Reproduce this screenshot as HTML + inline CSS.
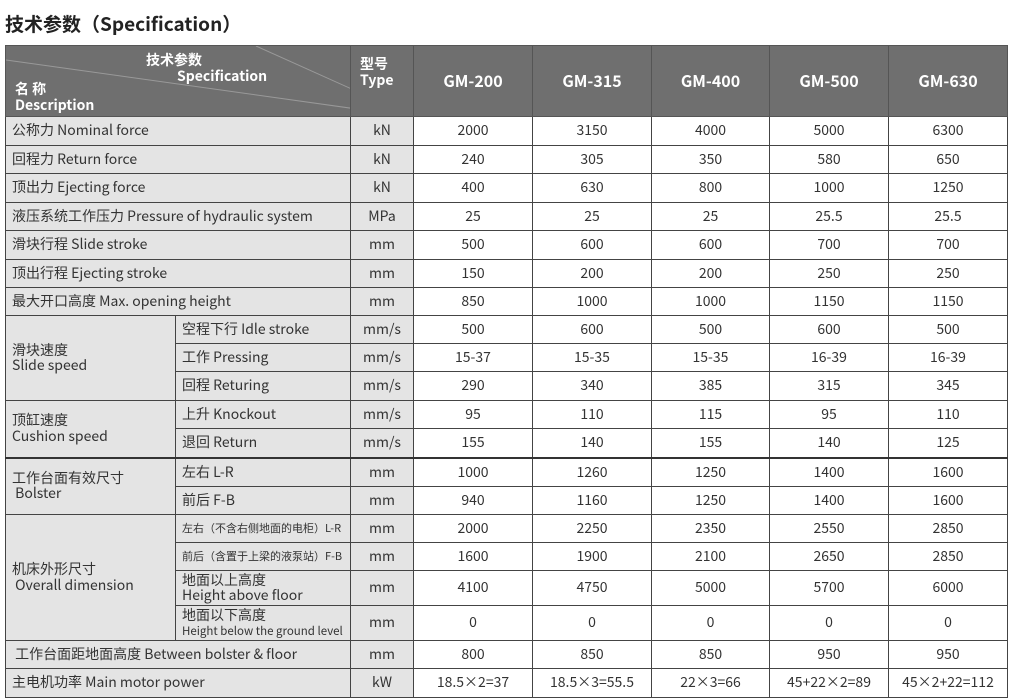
<!DOCTYPE html>
<html><head><meta charset="utf-8"><style>
body{margin:0;background:#fff;width:1011px;height:699px;overflow:hidden;font-family:"Liberation Sans","Noto Sans CJK SC",sans-serif;color:#333;position:relative}
.title{position:absolute;left:5px;top:10px;font-size:19px;font-weight:bold;color:#222;font-family:"Noto Sans CJK SC","Liberation Sans",sans-serif}
table{position:absolute;left:5px;top:45px;border-collapse:collapse;table-layout:fixed;width:1002px}
td{border:1px solid #444;padding:0;font-size:14px;font-family:"Noto Sans CJK SC","Liberation Sans",sans-serif;overflow:hidden;white-space:nowrap;line-height:1.1}
td.n{background:#e4e4e4;padding-left:6px;text-align:left}
td.u{background:#e4e4e4;text-align:center}
td.v{background:#fff;text-align:center}
.hd td{background:#6f6f6f;color:#fff;font-weight:bold;border-color:#555}
.sm{font-size:11px}
</style></head><body>
<div class="title">技术参数（Specification）</div>
<table>
<colgroup><col style="width:170px"><col style="width:175px"><col style="width:63px"><col style="width:119px"><col style="width:119px"><col style="width:118px"><col style="width:119px"><col style="width:119px"></colgroup>
<tr class="hd" style="height:71px"><td colspan="2" style="position:relative">
<svg width="345" height="71" style="position:absolute;left:0;top:0"><line x1="0" y1="14" x2="408" y2="71" stroke="#999" stroke-width="1"/><line x1="250" y1="0" x2="408" y2="71" stroke="#999" stroke-width="1"/></svg>
<div style="position:absolute;left:140px;top:6px;font-size:14px;line-height:16px">技术参数<br><span style="padding-left:31px">Specification</span></div>
<div style="position:absolute;left:9px;top:35px;font-size:14px;line-height:16px">名 称<br>Description</div></td>
<td style="position:relative;border-left:none"><div style="position:absolute;left:9px;top:10px;font-size:14px;line-height:16px">型号<br>Type</div></td>
<td class="c" style="text-align:center;font-size:16px">GM-200</td><td style="text-align:center;font-size:16px">GM-315</td><td style="text-align:center;font-size:16px">GM-400</td><td style="text-align:center;font-size:16px">GM-500</td><td style="text-align:center;font-size:16px">GM-630</td></tr>
<tr style="height:29px"><td class="n" colspan="2">公称力 Nominal force</td><td class="u">kN</td><td class="v">2000</td><td class="v">3150</td><td class="v">4000</td><td class="v">5000</td><td class="v">6300</td></tr>
<tr style="height:28px"><td class="n" colspan="2">回程力 Return force</td><td class="u">kN</td><td class="v">240</td><td class="v">305</td><td class="v">350</td><td class="v">580</td><td class="v">650</td></tr>
<tr style="height:29px"><td class="n" colspan="2">顶出力 Ejecting force</td><td class="u">kN</td><td class="v">400</td><td class="v">630</td><td class="v">800</td><td class="v">1000</td><td class="v">1250</td></tr>
<tr style="height:28px"><td class="n" colspan="2">液压系统工作压力 Pressure of hydraulic system</td><td class="u">MPa</td><td class="v">25</td><td class="v">25</td><td class="v">25</td><td class="v">25.5</td><td class="v">25.5</td></tr>
<tr style="height:29px"><td class="n" colspan="2">滑块行程 Slide stroke</td><td class="u">mm</td><td class="v">500</td><td class="v">600</td><td class="v">600</td><td class="v">700</td><td class="v">700</td></tr>
<tr style="height:28px"><td class="n" colspan="2">顶出行程 Ejecting stroke</td><td class="u">mm</td><td class="v">150</td><td class="v">200</td><td class="v">200</td><td class="v">250</td><td class="v">250</td></tr>
<tr style="height:28px"><td class="n" colspan="2">最大开口高度 Max. opening height</td><td class="u">mm</td><td class="v">850</td><td class="v">1000</td><td class="v">1000</td><td class="v">1150</td><td class="v">1150</td></tr>
<tr style="height:28px"><td class="n" rowspan="3">滑块速度<br>Slide speed</td><td class="n">空程下行 Idle stroke</td><td class="u">mm/s</td><td class="v">500</td><td class="v">600</td><td class="v">500</td><td class="v">600</td><td class="v">500</td></tr>
<tr style="height:28px"><td class="n">工作 Pressing</td><td class="u">mm/s</td><td class="v">15-37</td><td class="v">15-35</td><td class="v">15-35</td><td class="v">16-39</td><td class="v">16-39</td></tr>
<tr style="height:29px"><td class="n">回程 Returing</td><td class="u">mm/s</td><td class="v">290</td><td class="v">340</td><td class="v">385</td><td class="v">315</td><td class="v">345</td></tr>
<tr style="height:28px"><td class="n" rowspan="2">顶缸速度<br>Cushion speed</td><td class="n">上升 Knockout</td><td class="u">mm/s</td><td class="v">95</td><td class="v">110</td><td class="v">115</td><td class="v">95</td><td class="v">110</td></tr>
<tr style="height:29px"><td class="n">退回 Return</td><td class="u">mm/s</td><td class="v">155</td><td class="v">140</td><td class="v">155</td><td class="v">140</td><td class="v">125</td></tr>
<tr style="height:29px;border-top:2px solid #333"><td class="n" rowspan="2">工作台面有效尺寸<br>&nbsp;Bolster</td><td class="n">左右 L-R</td><td class="u">mm</td><td class="v">1000</td><td class="v">1260</td><td class="v">1250</td><td class="v">1400</td><td class="v">1600</td></tr>
<tr style="height:28px"><td class="n">前后 F-B</td><td class="u">mm</td><td class="v">940</td><td class="v">1160</td><td class="v">1250</td><td class="v">1400</td><td class="v">1600</td></tr>
<tr style="height:28px"><td class="n" rowspan="4">机床外形尺寸<br>&nbsp;Overall dimension</td><td class="n sm">左右（不含右侧地面的电柜）L-R</td><td class="u">mm</td><td class="v">2000</td><td class="v">2250</td><td class="v">2350</td><td class="v">2550</td><td class="v">2850</td></tr>
<tr style="height:28px"><td class="n sm">前后（含置于上梁的液泵站）F-B</td><td class="u">mm</td><td class="v">1600</td><td class="v">1900</td><td class="v">2100</td><td class="v">2650</td><td class="v">2850</td></tr>
<tr style="height:35px"><td class="n">地面以上高度<br>Height above floor</td><td class="u">mm</td><td class="v">4100</td><td class="v">4750</td><td class="v">5000</td><td class="v">5700</td><td class="v">6000</td></tr>
<tr style="height:35px"><td class="n">地面以下高度<br><span style="font-size:11.5px">Height below the ground level</span></td><td class="u">mm</td><td class="v">0</td><td class="v">0</td><td class="v">0</td><td class="v">0</td><td class="v">0</td></tr>
<tr style="height:28px"><td class="n" colspan="2">&nbsp;工作台面距地面高度 Between bolster &amp; floor</td><td class="u">mm</td><td class="v">800</td><td class="v">850</td><td class="v">850</td><td class="v">950</td><td class="v">950</td></tr>
<tr style="height:29px"><td class="n" colspan="2">主电机功率 Main motor power</td><td class="u">kW</td><td class="v">18.5×2=37</td><td class="v">18.5×3=55.5</td><td class="v">22×3=66</td><td class="v">45+22×2=89</td><td class="v">45×2+22=112</td></tr>
</table>
</body></html>
